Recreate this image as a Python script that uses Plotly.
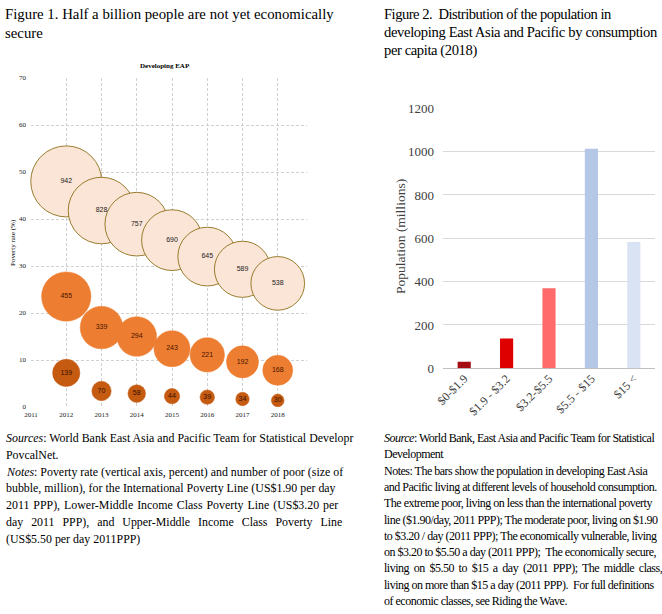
import plotly.graph_objects as go

W, H = 662, 614

# ---------------- data ----------------
years = [2012, 2013, 2014, 2015, 2016, 2017, 2018]
rate_550 = [48.0, 41.8, 38.9, 35.5, 32.0, 29.3, 26.3]
poor_550 = [942, 828, 757, 690, 645, 589, 538]
rate_320 = [23.5, 16.9, 15.0, 12.4, 11.1, 9.6, 7.8]
poor_320 = [455, 339, 294, 243, 221, 192, 168]
rate_190 = [7.25, 3.4, 2.85, 2.3, 2.1, 1.7, 1.4]
poor_190 = [139, 70, 58, 44, 39, 34, 30]
year_ticks = [2011, 2012, 2013, 2014, 2015, 2016, 2017, 2018]

bar_cats = ["$0-$1.9", "$1.9 - $3.2", "$3.2-$5.5", "$5.5 - $15", "$15 <"]
bar_vals = [30, 138, 370, 1013, 583]
bar_colors = ["#A50D12", "#DE0000", "#FF6B6B", "#B4C7E7", "#DAE3F3"]

# ---------------- helpers ----------------
def px(x):
    return x / W

def py(y):
    return 1 - y / H

SERIF = "Liberation Serif, Times New Roman, serif"
SANS = "Liberation Sans, Arial, sans-serif"

max_d = 71
sizeref = 2.0 * max(poor_550) / (max_d ** 2)

fig = go.Figure()

def bubble(rates, poor, fill, line_color, line_w, text_color):
    fig.add_trace(go.Scatter(
        x=years, y=rates, mode="markers+text",
        text=[str(v) for v in poor],
        textposition="middle center",
        textfont=dict(family=SANS, size=7, color=text_color),
        marker=dict(size=poor, sizemode="area", sizeref=sizeref,
                    color=fill, opacity=1,
                    line=dict(color=line_color, width=line_w)),
        cliponaxis=False, showlegend=False, hoverinfo="skip",
        xaxis="x", yaxis="y"))

bubble(rate_550, poor_550, "#FBE5D6", "#7F6000", 0.8, "#222222")
bubble(rate_320, poor_320, "#ED7D31", "#ED7D31", 0.5, "#4A1400")
bubble(rate_190, poor_190, "#C55A11", "#C55A11", 0.5, "#3A1000")

fig.add_trace(go.Bar(
    x=bar_cats, y=bar_vals, marker=dict(color=bar_colors, line=dict(width=0)),
    width=0.31, showlegend=False, hoverinfo="skip",
    xaxis="x2", yaxis="y2"))

grid = "#D0D0D0"
fig.update_layout(
    width=W, height=H,
    margin=dict(l=0, r=0, t=0, b=0, autoexpand=False),
    paper_bgcolor="white", plot_bgcolor="rgba(0,0,0,0)",
    xaxis=dict(domain=[px(31), px(307)], range=[2011, 2018.83],
               tickvals=year_ticks, ticktext=[str(v) for v in year_ticks],
               showgrid=True, gridcolor=grid, griddash="3px,2px", gridwidth=0.8,
               zeroline=False, showline=False, ticks="", automargin=False,
               tickfont=dict(family=SERIF, size=7, color="#222"),
               ticklabelstandoff=2),
    yaxis=dict(domain=[py(407), py(78)], range=[0, 70], dtick=10,
               showgrid=True, gridcolor=grid, griddash="3px,2px", gridwidth=0.8,
               zeroline=False, showline=False, ticks="", automargin=False,
               tickfont=dict(family=SERIF, size=7, color="#222"),
               ticklabelstandoff=4),
    xaxis2=dict(domain=[px(443), px(655)], anchor="y2", automargin=False,
                tickangle=-45, showgrid=False, showline=False, ticks="",
                tickfont=dict(family=SERIF, size=12, color="#404040")),
    yaxis2=dict(domain=[py(368.3), py(108.3)], anchor="x2", range=[0, 1200],
                dtick=200, showgrid=True, gridcolor="#D9D9D9", gridwidth=1,
                zeroline=True, zerolinecolor="#BFBFBF", zerolinewidth=1,
                showline=False, ticks="", automargin=False,
                tickfont=dict(family=SERIF, size=13, color="#404040"),
                ticklabelstandoff=8),
)

ann = []

def text(x, y, s, size, xanchor="left", yanchor="middle", family=SERIF,
         color="#000", angle=0, spacing=None, wspacing=None):
    style = ""
    if spacing is not None:
        style += "letter-spacing:%spx;" % spacing
    if wspacing is not None:
        style += "word-spacing:%spx;" % wspacing
    if style:
        s = '<span style="%s">%s</span>' % (style, s)
    ann.append(dict(x=px(x), y=py(y), xref="paper", yref="paper", text=s,
                    showarrow=False, xanchor=xanchor, yanchor=yanchor,
                    font=dict(family=family, size=size, color=color),
                    textangle=angle, borderpad=0))

# titles
text(4, 14, "Figure 1. Half a billion people are not yet economically", 14.8)
text(4, 33, "secure", 14.8)
text(383, 14, "Figure 2.  Distribution of the population in", 14.6, spacing=-0.5)
text(383, 32, "developing East Asia and Pacific by consumption", 14.6, spacing=-0.35)
text(383, 50, "per capita (2018)", 14.6, spacing=-0.4)

# chart titles/axis titles
text(165, 66, "<b>Developing EAP</b>", 7, xanchor="center")
text(13, 243, "Poverty rate (%)", 7, xanchor="center", angle=-90)
text(401, 237, "Population (millions)", 13.5, xanchor="center", angle=-90,
     color="#404040")

left_lines = [
    "<i>Sources</i>: World Bank East Asia and Pacific Team for Statistical Developr",
    "PovcalNet.",
    "<i>Notes</i>: Poverty rate (vertical axis, percent) and number of poor (size of",
    "bubble, million), for the International Poverty Line (US$1.90 per day",
    "2011 PPP), Lower-Middle Income Class Poverty Line (US$3.20 per",
    "day 2011 PPP), and Upper-Middle Income Class Poverty Line",
    "(US$5.50 per day 2011PPP)",
]
left_ws = [None, None, None, None, 1.0, 5.0, None]
for i, s in enumerate(left_lines):
    text(5, 438 + i * 16.8, s, 11.9, wspacing=left_ws[i])

right_lines = [
    "<i>Source</i>: World Bank, East Asia and Pacific Team for Statistical",
    "Development",
    "Notes: The bars show the population in developing East Asia",
    "and Pacific living at different levels of household consumption.",
    "The extreme poor, living on less than the international poverty",
    "line ($1.90/day, 2011 PPP); The moderate poor, living on $1.90",
    "to $3.20 / day (2011 PPP); The economically vulnerable, living",
    "on $3.20 to $5.50 a day (2011 PPP);  The economically secure,",
    "living on $5.50 to $15 a day (2011 PPP); The middle class,",
    "living on more than $15 a day (2011 PPP).  For full definitions",
    "of economic classes, see Riding the Wave.",
]
right_ws = [None, None, None, None, None, None, None, None, 2.2, None, None]
for i, s in enumerate(right_lines):
    text(383, 438 + i * 16.3, s, 12, spacing=-0.5, wspacing=right_ws[i])

fig.update_layout(annotations=ann)
fig.write_html(
    "out.html",
    config={"displayModeBar": False},
    post_script="document.body.style.margin='0';document.body.style.overflow='hidden';",
)
